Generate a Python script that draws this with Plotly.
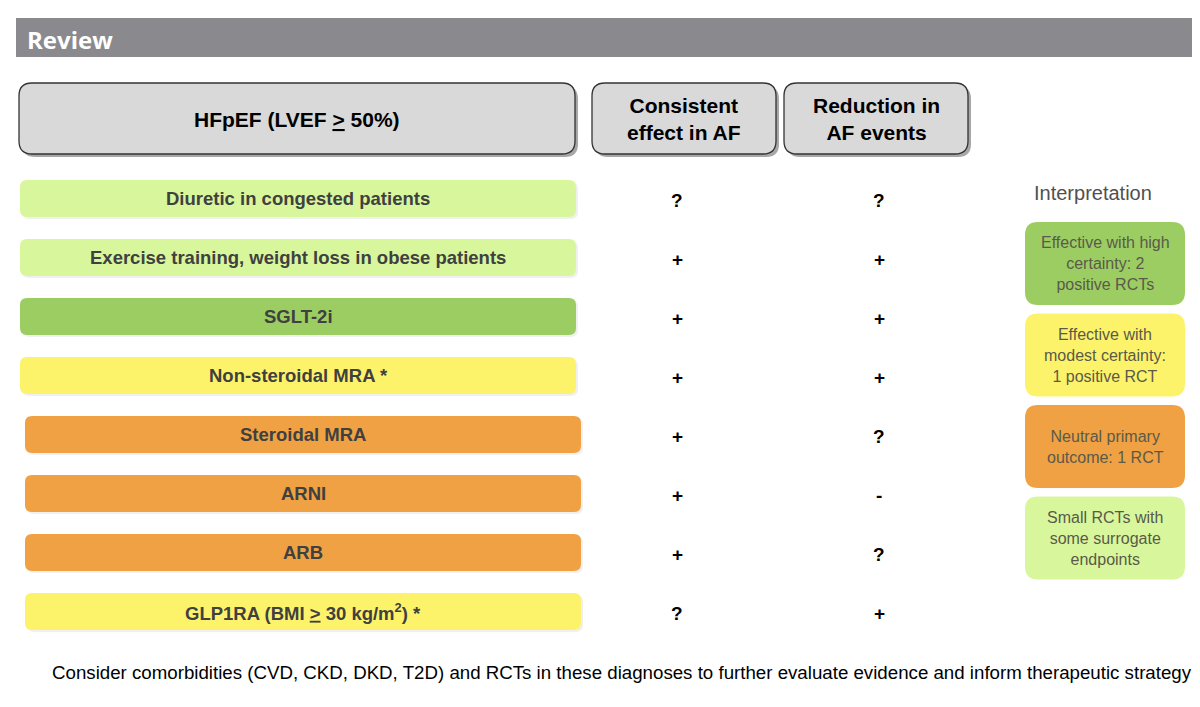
import plotly.graph_objects as go

# dati della tabella
header_main = "HFpEF (LVEF <u>></u> 50%)"
col_headers = ["Consistent<br>effect in AF", "Reduction in<br>AF events"]

therapies = [
    "Diuretic in congested patients",
    "Exercise training, weight loss in obese patients",
    "SGLT-2i",
    "Non-steroidal MRA *",
    "Steroidal MRA",
    "ARNI",
    "ARB",
    "GLP1RA (BMI <u>></u> 30 kg/m<sup>2</sup>) *",
]
# categoria di evidenza per ogni riga
evidence = ["small", "small", "high", "modest", "neutral", "neutral", "neutral", "modest"]
consistent_af = ["?", "+", "+", "+", "+", "+", "+", "?"]
reduction_af = ["?", "+", "+", "+", "?", "-", "?", "+"]

legend_keys = ["high", "modest", "neutral", "small"]
legend_labels = [
    "Effective with high<br>certainty: 2<br>positive RCTs",
    "Effective with<br>modest certainty:<br>1 positive RCT",
    "Neutral primary<br>outcome: 1 RCT",
    "Small RCTs with<br>some surrogate<br>endpoints",
]
footer = ("Consider comorbidities (CVD, CKD, DKD, T2D) and RCTs in these diagnoses "
          "to further evaluate evidence and inform therapeutic strategy")

# colori
colors = {
    "high": "#9ccd62",
    "modest": "#fdf36b",
    "neutral": "#f0a143",
    "small": "#d8f79c",
}
W, H = 1200, 707
OFF = 8  # margine del body della pagina
FONT = "Liberation Sans, Arial, sans-serif"


def rrect(x0, y0, x1, y1, r):
    return (f"M {x0+r},{y0} L {x1-r},{y0} Q {x1},{y0} {x1},{y0+r} "
            f"L {x1},{y1-r} Q {x1},{y1} {x1-r},{y1} L {x0+r},{y1} "
            f"Q {x0},{y1} {x0},{y1-r} L {x0},{y0+r} Q {x0},{y0} {x0+r},{y0} Z")


shapes = []
annotations = []


def box(x0, y0, x1, y1, r, fill, line=None, shadow=None):
    if shadow:
        dx, col = shadow
        shapes.append(dict(type="path", path=rrect(x0 + dx, y0 + dx, x1 + dx, y1 + dx, r),
                           fillcolor=col, line=dict(width=0), layer="below"))
    shapes.append(dict(type="path", path=rrect(x0, y0, x1, y1, r), fillcolor=fill,
                       line=dict(color=line or fill, width=1.3 if line else 0), layer="below"))


def text(x, y, s, size, color="black", bold=False, family=FONT, xanchor="center"):
    annotations.append(dict(x=x, y=y, xref="x", yref="y", text=f"<b>{s}</b>" if bold else s,
                            showarrow=False, xanchor=xanchor, yanchor="middle",
                            font=dict(size=size, color=color, family=family)))


# barra "Review"
shapes.append(dict(type="rect", x0=16, x1=W + 5, y0=18, y1=57, fillcolor="#8a8a8e",
                   line=dict(width=0), layer="below"))
annotations.append(dict(x=25, y=39, xref="x", yref="y", text="<b>Review</b>", showarrow=False,
                        xanchor="left", yanchor="middle",
                        font=dict(size=24, color="white", family="Open Sans, sans-serif")))

# intestazioni
shadow = (3, "rgba(60,60,60,0.45)")
box(19, 83, 575, 154, 13, "#d9d9d9", "#333333", shadow)
text(297, 119, header_main, 21, bold=True)
col_x = [(592, 776), (784, 968)]
for (x0, x1), lab in zip(col_x, col_headers):
    box(x0, 83, x1, 154, 13, "#d9d9d9", "#333333", shadow)
    text((x0 + x1) / 2, 119, lab, 21, bold=True)

# righe
row_top, pitch, row_h = 180, 59, 37
sym_x = [677, 879]
for i, (lab, ev, c1, c2) in enumerate(zip(therapies, evidence, consistent_af, reduction_af)):
    y0 = row_top + i * pitch
    x0 = 20 if i < 4 else 25
    box(x0, y0, x0 + 556, y0 + row_h, 7, colors[ev], shadow=(2, "rgba(0,0,0,0.06)"))
    yc = y0 + row_h / 2
    text(x0 + 278, yc, lab, 18.5, color="#404040", bold=True)
    text(sym_x[0], yc + 2, c1, 19, bold=True)
    text(sym_x[1], yc + 2, c2, 19, bold=True)

# legenda interpretazione
text(1093, 193, "Interpretation", 20, color="#505050")
leg_top, leg_pitch, leg_h = 222, 91.5, 83
for j, (k, lab) in enumerate(zip(legend_keys, legend_labels)):
    y0 = leg_top + j * leg_pitch
    box(1025, y0, 1185, y0 + leg_h, 13, colors[k])
    text(1105, y0 + leg_h / 2, lab, 16, color="#5a5a4a")

# nota a piè di pagina
text(50, 672, footer, 18.7, color="black", xanchor="left")

fig = go.Figure()
fig.update_layout(
    width=W - OFF, height=H - OFF,
    margin=dict(l=0, r=0, t=0, b=0),
    paper_bgcolor="white", plot_bgcolor="white",
    xaxis=dict(range=[OFF, W], visible=False, fixedrange=True),
    yaxis=dict(range=[H, OFF], visible=False, fixedrange=True),
    shapes=shapes, annotations=annotations,
    showlegend=False,
)
fig.write_html("out.html")
